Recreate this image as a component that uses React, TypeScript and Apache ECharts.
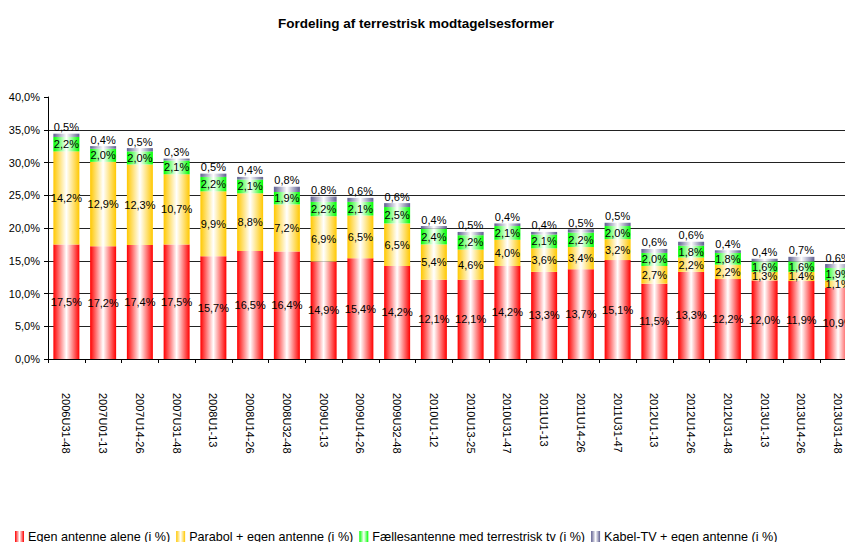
import React, { useEffect, useRef } from "react";
import * as echarts from "echarts";

const categories = [
  "2006U31-48", "2007U01-13", "2007U14-26", "2007U31-48", "2008U1-13", "2008U14-26",
  "2008U32-48", "2009U1-13", "2009U14-26", "2009U32-48", "2010U1-12", "2010U13-25",
  "2010U31-47", "2011U1-13", "2011U14-26", "2011U31-47", "2012U1-13", "2012U14-26",
  "2012U31-48", "2013U1-13", "2013U14-26", "2013U31-48",
];
const egen = [17.5, 17.2, 17.4, 17.5, 15.7, 16.5, 16.4, 14.9, 15.4, 14.2, 12.1, 12.1, 14.2, 13.3, 13.7, 15.1, 11.5, 13.3, 12.2, 12.0, 11.9, 10.9];
const parabol = [14.2, 12.9, 12.3, 10.7, 9.9, 8.8, 7.2, 6.9, 6.5, 6.5, 5.4, 4.6, 4.0, 3.6, 3.4, 3.2, 2.7, 2.2, 2.2, 1.3, 1.4, 1.1];
const faelles = [2.2, 2.0, 2.0, 2.1, 2.2, 2.1, 1.9, 2.2, 2.1, 2.5, 2.4, 2.2, 2.1, 2.1, 2.2, 2.0, 2.0, 1.8, 1.8, 1.6, 1.6, 1.9];
const kabel = [0.5, 0.4, 0.5, 0.3, 0.5, 0.4, 0.8, 0.8, 0.6, 0.6, 0.4, 0.5, 0.4, 0.4, 0.5, 0.5, 0.6, 0.6, 0.4, 0.4, 0.7, 0.6];
const seriesNames = [
  "Egen antenne alene (i %)",
  "Parabol + egen antenne (i %)",
  "Fællesantenne med terrestrisk tv (i %)",
  "Kabel-TV + egen antenne (i %)",
];
const yTicks = { min: 0, max: 40, interval: 5 };

const fmt = (v: number) => v.toFixed(1).replace(".", ",") + "%";
const narrow = "'Liberation Sans Narrow', 'Arial Narrow', Arial, 'Liberation Sans', sans-serif";
const arial = "Arial, 'Liberation Sans', sans-serif";

const grad = (c: string) =>
  new echarts.graphic.LinearGradient(0, 0, 1, 0, [
    { offset: 0, color: c },
    { offset: 0.5, color: "#ffffff" },
    { offset: 1, color: c },
  ]);

export default function App() {
  const ref = useRef<HTMLDivElement>(null);
  useEffect(() => {
    if (!ref.current) return;
    const chart = echarts.init(ref.current, undefined, { renderer: "svg" });
    const colors = ["#ff0000", "#ffc800", "#00ff00", "#5f5f90"];
    const datas = [egen, parabol, faelles, kabel];
    chart.setOption({
      animation: false,
      title: {
        text: "Fordeling af terrestrisk modtagelsesformer",
        left: 416,
        top: 16,
        padding: 0,
        textAlign: "center",
        textStyle: { fontFamily: arial, fontSize: 13.5, fontWeight: "bold", color: "#000" },
      },
      legend: {
        left: 15,
        top: 530,
        padding: 0,
        itemGap: 6,
        itemWidth: 9,
        itemHeight: 11,
        icon: "rect",
        textStyle: { fontFamily: arial, fontSize: 12.6, color: "#000", padding: [0, 0, 0, -1] },
        data: seriesNames,
      },
      grid: { left: 48, top: 97, width: 808.5, height: 262, containLabel: false },
      xAxis: {
        type: "category",
        data: categories,
        axisLine: { show: true, lineStyle: { color: "#000", width: 1 } },
        axisTick: { show: true, interval: 0, length: 4, lineStyle: { color: "#000" } },
        axisLabel: {
          interval: 0,
          rotate: -90,
          margin: 34,
          fontFamily: arial,
          fontSize: 11,
          color: "#000",
        },
      },
      yAxis: {
        type: "value",
        min: yTicks.min,
        max: yTicks.max,
        interval: yTicks.interval,
        axisLine: { show: true, lineStyle: { color: "#000", width: 1 } },
        axisTick: { show: true, length: 4, lineStyle: { color: "#000" } },
        axisLabel: {
          margin: 8,
          fontFamily: narrow,
          fontSize: 11,
          color: "#000",
          formatter: (v: number) => fmt(v),
        },
        splitLine: { show: true, showMaxLine: false, lineStyle: { color: "#222", width: 1 } },
      },
      series: datas.map((d, i) => ({
        name: seriesNames[i],
        type: "bar",
        stack: "total",
        barWidth: 26,
        data: d,
        itemStyle: { color: grad(colors[i]) },
        label: {
          show: true,
          position: i === 3 ? "top" : "inside",
          distance: 1,
          fontFamily: narrow,
          fontSize: 11,
          color: "#000",
          formatter: (p: any) => fmt(p.value),
        },
      })),
    });
    return () => chart.dispose();
  }, []);
  return (
    <div style={{ position: "fixed", left: 0, top: 0, width: 845, height: 542, overflow: "hidden", background: "#fff" }}>
      <div ref={ref} style={{ width: 900, height: 542 }} />
    </div>
  );
}
